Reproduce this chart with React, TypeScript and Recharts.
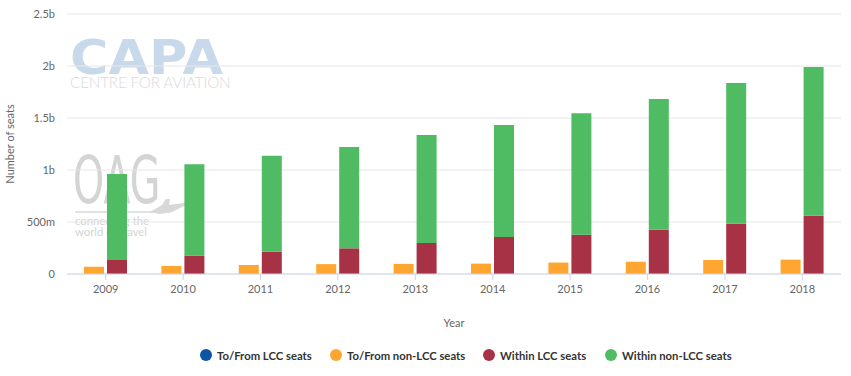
import React from 'react'
import { BarChart, Bar, XAxis, YAxis, CartesianGrid } from 'recharts'

// values in millions of seats
const years = ['2009', '2010', '2011', '2012', '2013', '2014', '2015', '2016', '2017', '2018']
const toFromLcc = [0, 0, 0, 0, 0, 0, 0, 0, 0, 0]
const toFromNonLcc = [70, 77, 87, 95, 97, 100, 110, 118, 135, 138]
const withinLcc = [141, 176, 214, 247, 298, 356, 378, 426, 484, 561]
const withinNonLcc = [820, 879, 924, 974, 1038, 1076, 1167, 1257, 1352, 1429]
const yTicks = [0, 500, 1000, 1500, 2000, 2500]

const series = [
  { key: 'toFromLcc', name: 'To/From LCC seats', color: '#0c55a5', stack: 'tofrom', left: 206 },
  { key: 'toFromNonLcc', name: 'To/From non-LCC seats', color: '#ffa630', stack: 'tofrom', left: 336 },
  { key: 'withinLcc', name: 'Within LCC seats', color: '#a83245', stack: 'within', left: 489 },
  { key: 'withinNonLcc', name: 'Within non-LCC seats', color: '#4fbb63', stack: 'within', left: 611 },
]

const data = years.map((year, i) => ({
  year,
  toFromLcc: toFromLcc[i],
  toFromNonLcc: toFromNonLcc[i],
  withinLcc: withinLcc[i],
  withinNonLcc: withinNonLcc[i],
}))

const fmt = (v: number) => (v === 0 ? '0' : v < 1000 ? `${v}m` : `${v / 1000}b`)

const font = 'Lato, "Open Sans", sans-serif'

export default function App() {
  return (
    <div style={{ position: 'relative', width: 851, height: 376, fontFamily: font, background: '#fff' }}>
      <style>{`body{margin:0}`}</style>

      {/* watermarks */}
      <div style={{ position: 'absolute', left: 70, top: 40, fontFamily: '"DejaVu Sans", sans-serif', fontWeight: 700, fontSize: 48, color: '#c9d9ec', lineHeight: '35px', transform: 'scaleX(1.09)', transformOrigin: 'left top' }}>
        CAPA
      </div>
      <div style={{ position: 'absolute', left: 70, top: 75.5, fontFamily: font, fontWeight: 300, fontSize: 15.3, color: '#dadada', lineHeight: '12px', letterSpacing: -0.2 }}>
        CENTRE FOR AVIATION
      </div>
      <div style={{ position: 'absolute', left: 73, top: 155, fontFamily: '"DejaVu Sans", sans-serif', fontSize: 66, color: '#d4d4d4', lineHeight: '52px', transform: 'scaleX(0.6)', transformOrigin: 'left top' }}>
        OAG
      </div>
      <svg width={851} height={376} style={{ position: 'absolute', left: 0, top: 0 }}>
        <line x1={75} y1={212} x2={170} y2={212} stroke="#d8d8d8" strokeWidth={1.5} />
        <path d="M150 212 L162 205 L166 199 L170 199 L169 205 L184 203 L188 204 L172 212 L160 214 Z" fill="#d8d8d8" />
      </svg>
      <div style={{ position: 'absolute', left: 75, top: 215, fontFamily: font, fontSize: 11.3, color: '#d4d4d4', lineHeight: '11px' }}>
        connecting the
      </div>
      <div style={{ position: 'absolute', left: 75, top: 226, fontFamily: font, fontSize: 11.3, color: '#d4d4d4', lineHeight: '11px' }}>
        world of travel
      </div>

      <div style={{ position: 'absolute', left: 0, top: 0 }}>
        <BarChart
          width={851}
          height={376}
          data={data}
          margin={{ top: 14, right: 10, bottom: 47, left: 0 }}
          barSize={20}
          barGap={3}
        >
          <CartesianGrid vertical={false} stroke="#e6e6e6" />
          <XAxis
            dataKey="year"
            height={55}
            axisLine={{ stroke: '#ccd6eb' }}
            tickLine={{ stroke: '#ccd6eb' }}
            tickSize={6}
            tickMargin={5}
            tick={{ fontSize: 11, fill: '#666', fontFamily: font }}
            label={{ value: 'Year', position: 'insideBottom', offset: 2, fontSize: 11, fill: '#666', fontFamily: font }}
          />
          <YAxis
            width={67}
            domain={[0, 2500]}
            ticks={yTicks}
            tickFormatter={fmt}
            axisLine={false}
            tickLine={false}
            tickMargin={6}
            tick={{ fontSize: 11, fill: '#666', fontFamily: font }}
            label={{
              value: 'Number of seats',
              angle: -90,
              position: 'insideLeft',
              offset: 10,
              style: { textAnchor: 'middle', fontSize: 11, fill: '#666', fontFamily: font },
            }}
          />
          {series.map((s) => (
            <Bar key={s.key} dataKey={s.key} name={s.name} stackId={s.stack} fill={s.color} isAnimationActive={false} />
          ))}
        </BarChart>
      </div>

      {/* legend */}
      {series.map((s) => (
        <div key={s.key} style={{ position: 'absolute', left: s.left - 6, top: 347, display: 'flex', alignItems: 'center', height: 16 }}>
          <span style={{ width: 12, height: 12, borderRadius: 6, background: s.color, display: 'inline-block' }} />
          <span style={{ marginLeft: 5, fontSize: 11.3, fontWeight: 700, color: '#333' }}>{s.name}</span>
        </div>
      ))}
    </div>
  )
}
